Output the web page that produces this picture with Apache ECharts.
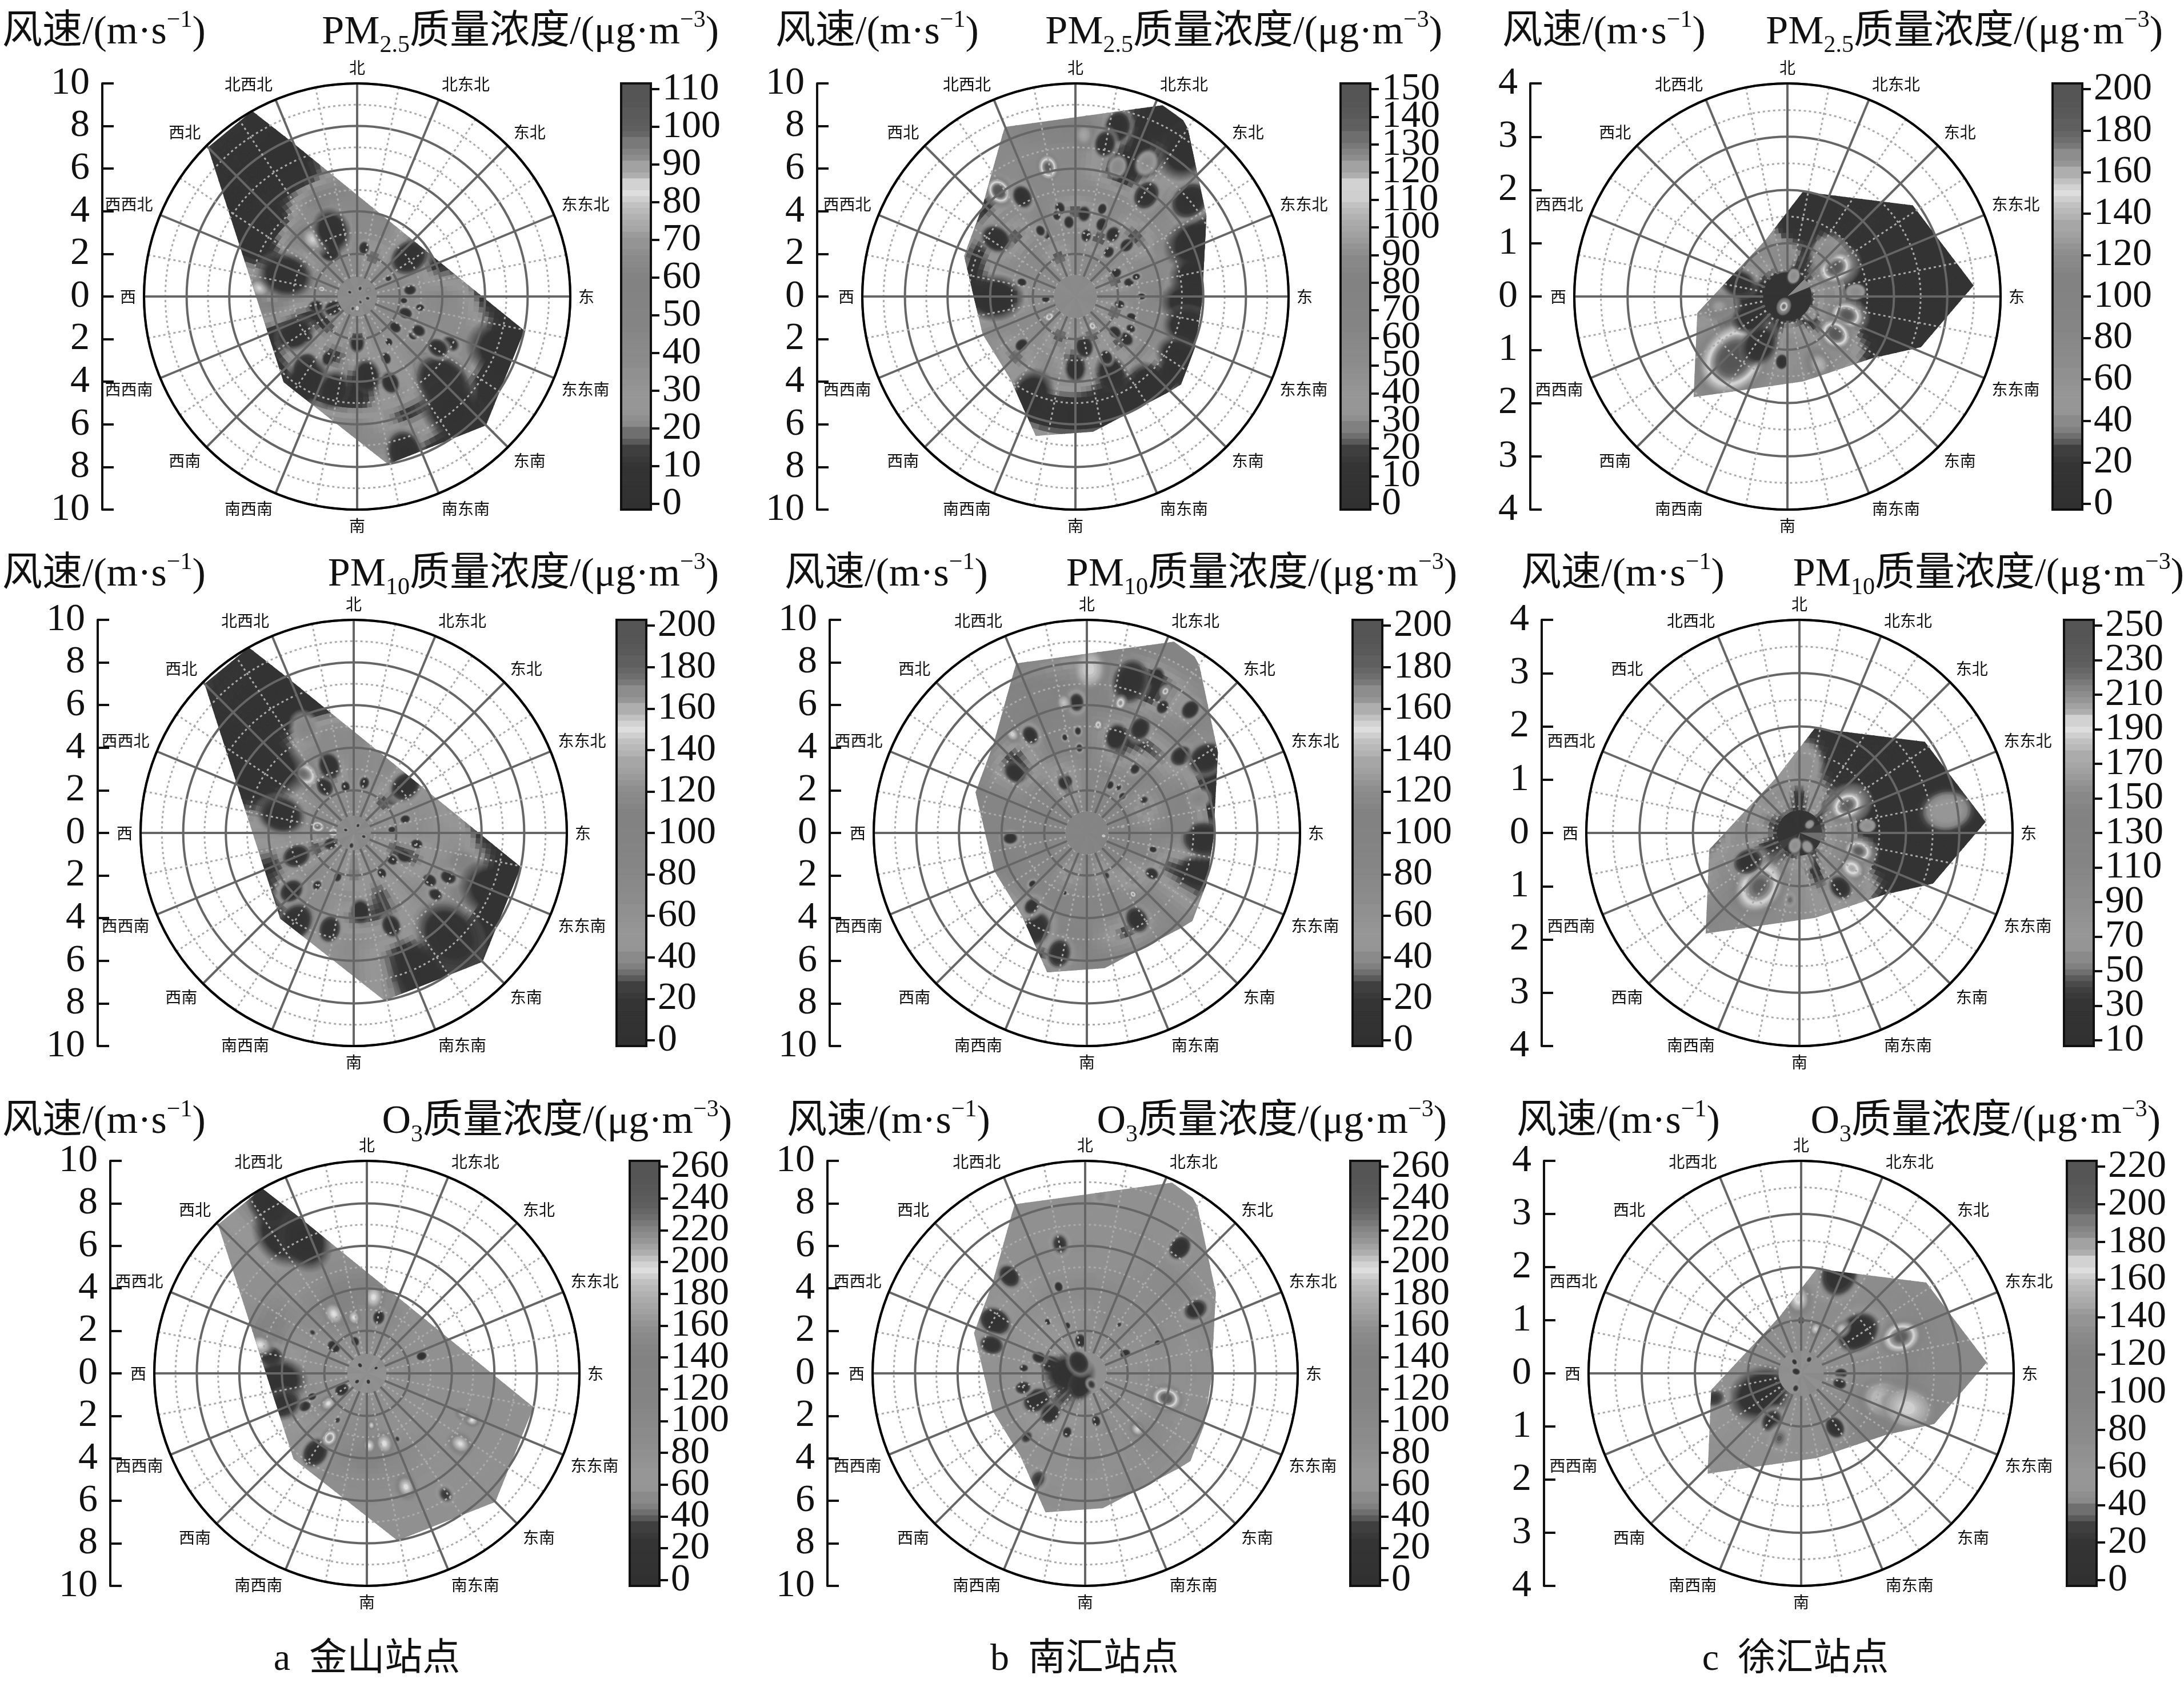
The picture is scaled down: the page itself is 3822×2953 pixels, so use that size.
<!DOCTYPE html>
<html><head><meta charset="utf-8">
<script src="https://cdn.jsdelivr.net/npm/echarts@6/dist/echarts.min.js"></script>
<style>html,body{margin:0;background:#fff}#c{width:3822px;height:2953px}</style></head>
<body><div id="c"></div><script>
const dirNames=['北','北东北','东北','东东北','东','东东南','东南','南东南','南','南西南','西南','西西南','西','西西北','西北','北西北'];
const captions=['a  金山站点','b  南汇站点','c  徐汇站点'];
const pollutantLabels=['{t|PM}{s|2.5}{t|质量浓度/(μg·m}{u|−3}{t|)}','{t|PM}{s|10}{t|质量浓度/(μg·m}{u|−3}{t|)}','{t|O}{s|3}{t|质量浓度/(μg·m}{u|−3}{t|)}'];
const windMax=[10,10,4];
const colorScales=[[[0,110,10],[0,150,10],[0,200,20]],[[0,200,20],[0,200,20],[10,250,20]],[[0,260,20],[0,260,20],[0,220,20]]];
// hull vertices per station: [direction in degrees, wind speed]
const hullJinshan=[[315,9.9],[330.5,10],[336.8,7.95],[101.5,8],[135,8.55],[169.6,8],[220.6,5.3]];
const hullNanhui=[[337.4,8.62],[24.5,9.86],[31.4,9.7],[33.8,9.48],[58.4,7.22],[92.8,5.94],[113.3,6.1],[129.8,6.45],[135.3,6.28],[172.5,6.4],[195.9,6.8],[218.1,4.94],[248,4.7],[290,5.56],[314.5,6.1],[334.8,8.17]];
const hullXuhui=[[8.4,1.99],[54,2.91],[86.6,3.5],[110.8,2.68],[126,1.97],[169.7,1.62],[223,2.58],[259.6,1.72],[292,1.1],[339,1.14]];
// concentration read at rings of wind speed (rows) and 16 directions N..NNW (columns)
const pm25Jinshan=[
[40,38,42,40,38,40,36,40,42,38,40,36,50,40,38,40],
[40,12,40,40,40,45,35,40,8,40,10,8,35,40,40,40],
[40,40,30,35,35,40,35,30,35,8,40,10,40,8,35,6],
[42,42,6,6,45,35,40,25,6,40,35,8,75,6,60,30],
[42,42,6,6,35,40,8,40,8,6,8,8,60,6,6,60],
[45,45,6,6,6,45,30,8,45,40,8,8,50,6,6,8],
[45,45,6,6,6,6,6,40,45,40,8,8,8,6,5,5],
[6,6,6,6,6,6,6,6,40,40,8,8,8,6,5,5],
[6,6,6,6,6,6,6,6,6,6,8,8,8,6,8,5],
[6,6,6,6,6,6,6,6,6,6,8,8,8,6,13,6]];
const pm25Nanhui=[
[55,50,55,50,60,50,55,60,50,55,50,55,50,55,60,50],
[55,50,60,15,55,15,60,15,50,15,55,50,50,50,55,15],
[60,15,50,55,60,60,15,55,10,50,50,55,15,55,60,55],
[15,60,15,55,65,55,60,15,50,55,20,55,10,50,15,65],
[60,60,55,60,15,60,15,8,10,15,55,55,15,8,55,60],
[55,8,65,10,8,10,8,10,8,10,50,55,55,50,8,60],
[60,8,50,8,8,8,50,50,50,50,50,55,55,55,60,55],
[85,10,50,8,8,8,8,8,8,8,8,8,55,55,55,60],
[60,8,8,8,8,50,50,50,50,50,50,50,50,50,50,60]];
const pm25Xuhui=[
[16,20,20,18,22,18,20,18,22,16,15,16,15,15,16,16],
[70,20,40,70,80,70,20,60,70,20,15,15,15,20,60,70],
[15,20,70,15,20,70,70,70,60,60,15,15,50,70,70,70],
[13,13,15,13,13,13,70,70,70,65,60,60,20,60,20,15],
[13,13,13,13,13,13,14,70,70,70,90,70,20,60,20,15],
[13,13,13,13,13,13,13,70,70,70,70,60,20,20,20,15],
[13,13,13,13,13,13,13,70,70,70,70,60,20,20,20,15],
[13,13,13,13,13,13,13,13,70,70,70,60,20,20,20,15],
[13,13,13,13,13,13,13,13,70,70,70,60,20,20,20,15]];
const pm10Jinshan=[
[70,68,72,65,70,68,65,68,40,68,65,50,100,70,68,70],
[70,60,20,60,60,25,65,60,30,60,70,20,60,70,70,60],
[75,70,60,65,70,25,65,25,70,65,75,60,60,40,75,15],
[75,65,50,60,60,60,70,25,25,70,70,20,65,15,65,75],
[70,15,15,15,60,75,60,60,70,60,20,15,60,12,15,75],
[15,15,15,15,15,75,70,15,70,50,15,15,50,12,12,15],
[15,15,15,15,15,15,15,15,70,70,15,15,20,15,12,12],
[15,15,15,15,15,15,15,18,70,70,15,15,20,15,14,14],
[15,15,15,15,15,15,15,15,20,20,15,15,20,15,18,14],
[15,15,15,15,15,15,15,15,20,20,15,15,20,15,24,16]];
const pm10Nanhui=[
[85,90,85,80,85,90,85,85,90,85,85,80,85,85,90,85],
[85,80,85,85,90,85,85,30,85,30,85,85,85,85,85,30],
[85,85,90,30,85,90,30,85,85,85,85,85,85,85,90,30],
[90,30,85,85,90,30,85,85,85,85,85,90,85,85,30,90],
[85,15,30,90,85,15,85,15,90,90,30,85,85,85,15,90],
[95,85,85,12,12,12,85,90,90,12,85,85,90,95,85,110],
[120,10,90,12,85,85,85,85,85,85,85,85,85,90,90,95],
[130,10,85,85,85,85,85,85,85,85,85,85,85,90,100,120],
[110,90,85,85,85,85,85,85,85,85,85,85,85,90,100,110]];
const pm10Xuhui=[
[35,45,40,35,45,40,38,45,50,36,50,34,32,34,45,45],
[30,90,40,100,110,100,100,25,90,90,30,30,90,60,90,90],
[80,40,30,30,28,100,90,60,90,90,90,90,90,90,70,70],
[70,30,28,28,28,28,100,70,90,100,120,90,30,70,60,60],
[28,28,28,28,28,28,28,90,90,100,110,60,30,60,60,60],
[28,28,28,28,28,28,28,90,90,100,110,90,30,60,60,60],
[28,28,28,28,28,28,28,28,90,90,100,90,30,60,60,60],
[28,28,28,28,28,28,28,28,90,90,100,90,30,60,60,60],
[28,28,28,28,28,28,28,28,90,90,100,90,30,60,60,60]];
const o3Jinshan=[
[80,78,80,85,80,78,80,80,85,80,78,80,80,80,78,80],
[90,85,80,80,85,80,80,80,90,80,85,80,80,80,80,90],
[90,100,80,80,80,80,80,80,100,90,80,100,80,80,90,130],
[140,80,80,80,80,80,80,100,130,100,80,40,25,80,90,130],
[90,80,80,80,80,80,80,90,90,90,80,75,60,165,80,90],
[85,80,80,80,80,80,80,80,85,80,80,80,80,90,80,85],
[80,80,80,80,80,80,80,80,80,80,80,80,80,80,80,30],
[80,80,80,80,80,80,80,80,80,80,80,80,80,80,75,12],
[80,80,80,80,80,80,80,80,80,80,80,80,80,80,75,15],
[80,80,80,80,80,80,80,80,80,80,80,80,80,80,75,20]];
const o3Nanhui=[
[80,85,80,80,85,80,80,78,60,40,30,30,30,40,60,75],
[90,80,85,80,80,80,85,80,80,60,40,60,60,75,60,75],
[80,100,90,80,90,85,80,90,80,80,60,75,80,80,75,80],
[100,90,85,90,80,90,100,80,90,80,80,80,80,80,80,90],
[80,85,95,80,85,80,90,85,80,80,80,80,80,60,75,80],
[85,80,100,90,80,85,80,90,80,90,80,80,80,80,80,85],
[80,85,80,80,80,80,80,80,85,80,80,80,80,80,80,80],
[80,80,80,80,80,80,80,80,80,80,80,80,80,80,80,80],
[80,80,80,80,80,80,80,80,80,80,80,80,80,80,80,80]];
const o3Xuhui=[
[72,70,68,72,78,70,72,70,72,70,62,70,72,70,78,72],
[78,70,70,72,72,72,78,72,70,70,30,25,70,72,72,70],
[72,78,70,78,72,95,78,70,70,70,70,68,70,70,78,78],
[72,72,78,72,78,115,95,72,70,70,70,65,70,70,72,72],
[40,72,78,85,95,130,115,78,70,70,70,60,70,72,72,70],
[30,60,78,95,85,95,95,78,70,70,70,65,70,72,72,70],
[70,72,78,85,85,95,78,78,70,70,70,70,70,72,72,70],
[70,72,78,85,85,78,78,78,70,70,70,70,70,72,72,70],
[70,72,78,85,85,78,78,78,70,70,70,70,70,72,72,70]];
// concentration of the inner disc by direction N..NNW
const corePm25Jinshan=[42,40,38,42,40,38,42,36,40,42,40,38,42,40,42,38];
const corePm25Nanhui=[55,58,52,55,58,55,52,58,55,52,58,55,55,52,58,55];
const corePm25Xuhui=[15,15,40,15,15,15,15,15,20,15,15,15,15,15,15,15];
const corePm10Jinshan=[80,74,84,72,82,76,80,72,60,75,82,72,84,75,80,72];
const corePm10Nanhui=[90,85,92,85,90,100,85,92,85,90,85,90,85,92,85,90];
const corePm10Xuhui=[28,32,30,40,50,30,38,30,50,30,42,30,30,32,28,34];
const coreO3Jinshan=[85,78,88,82,78,85,80,85,78,88,82,78,85,78,82,85];
const coreO3Nanhui=[80,80,80,80,80,80,80,80,80,80,80,80,80,80,80,80];
const coreO3Xuhui=[70,76,68,70,78,70,82,72,78,70,70,68,72,68,70,78];
const coreRadii=[[.9,1,.45],[.8,1,.42],[.9,1,.42]];
// local features: [direction, wind speed, peak concentration, extent in wind speed]
const blobsPm25Jinshan=[[244,1.25,5,.4],[257,2,6,.25],[329,2.6,4,.55],[8,2.3,6,.3],[173,3.75,4,.55],[180,2.2,6,.3],[117,4.9,6,.42],[180,.55,88,.14],[282,1.7,92,.16],[322,3.4,82,.6],[275,4.6,82,.42],[100,3,6,.22],[110,2.4,6,.22],[125,3.2,6,.24],[80,2.5,6,.2],[145,2.6,6,.2],[155,3.2,5,.26],[205,3.2,6,.26],[230,3,6,.22],[135,4.8,55,.55],[95,2.2,6,.18],[60,1.7,8,.18],[205,4.7,6,.35],[286.6,3.5,4,.95],[339,3.3,4,.72],[53,3.07,4,.85],[239,3.4,4,.68],[217,4.07,4,.62],[211,4.7,4,.85],[194,4.5,4,.62],[159,4.34,4,.45],[135,5.7,4,1.15],[140,7,4,1.15],[163,7.66,4,.85],[110,7.4,4,1.2],[122.5,4.5,5,.48],[109,2.4,5,.36],[119,3.3,5,.34],[129,2.3,5,.3],[83,2.5,5,.3],[20,.4,12,.12],[100,.5,12,.12],[200,.6,14,.12],[300,.4,12,.11],[150,.3,14,.11],[60,.6,70,.12]];
const blobsPm25Nanhui=[[324,6.1,150,.62],[348,6.2,140,.5],[3,7.6,100,.55],[14,8.2,5,.65],[28,7.1,55,.5],[18,6.4,60,.42],[60,4.75,60,.38],[84,4.7,65,.38],[73,5.5,55,.28],[306,4.6,6,.6],[332,5.3,6,.6],[269,3.8,5,.9],[180,5.5,6,.5],[180,3.4,6,.45],[228,3.4,8,.3],[170,2.4,6,.42],[232,1.55,125,.24],[150,1.6,125,.22],[350,4.2,8,.28],[335,3.2,10,.25],[20,3.6,8,.3],[45,3.4,8,.3],[75,2.6,10,.25],[110,2.8,8,.25],[130,3.1,8,.28],[265,1.4,8,.2],[285,2.6,8,.22],[11,7.3,6,.55],[35,5.8,6,.65],[66,6.2,5,1],[80,5.8,5,.85],[93,5.3,5,.85],[105,5.5,5,.85],[120,5.6,5,.75],[50,7,5,.85],[37,8.6,5,1],[204,5.1,5,.85],[155,4,6,.62],[140,5.4,5,.75],[127,5.8,6,.52],[153,3.2,6,.32],[132,2.5,8,.28],[120,3,8,.22],[332,3.5,8,.28],[355,3.5,8,.28],[347,3.9,8,.22],[10,2.9,8,.28],[31,3.4,8,.32],[37,2.6,8,.28],[60,2.2,8,.22],[72,3,8,.22],[90,3.1,8,.22],[100,2.1,8,.22],[6,3.9,8,.28],[17,4.3,8,.28]];
const blobsPm25Xuhui=[[221,1.54,200,.68],[59,1.05,192,.33],[107.5,1.17,192,.28],[128,1.14,192,.28],[185,1.23,8,.14],[200,.2,180,.12],[86,1.28,70,.16],[40,1.1,70,.22],[17,.4,70,.12],[67,.5,75,.12],[262,1.3,130,.28],[351,.75,75,.22],[128,.5,70,.14],[300,.8,60,.16],[155,1.4,140,.26],[210,1.05,12,.3],[285,.95,12,.25],[240,.8,12,.24]];
const blobsPm10Jinshan=[[320.6,3.55,175,.62],[280,1.72,180,.3],[272,.95,170,.22],[245,1.2,15,.3],[328,2.56,12,.42],[100,3,12,.25],[115,2.6,12,.25],[125,2.2,12,.24],[75,2.5,12,.24],[175,3.7,10,.42],[145,2.3,10,.24],[158,4.7,10,.48],[127,4.8,12,.36],[105,5.3,110,.55],[120,6,115,.55],[335,5.4,85,.6],[3,4.6,85,.55],[25,3.6,75,.45],[200,2.2,12,.22],[215,3,12,.26],[85,1.8,12,.18],[50,2.4,12,.22],[309.6,4.95,10,1.1],[284,3.5,10,.85],[248,2.9,10,.62],[227,4,10,.62],[213,5,10,.75],[194,4.65,10,.62],[137,6.6,10,1.25],[112,7.2,10,1.15],[155,7.3,10,1.05],[48,3.27,10,.75],[340,3.35,10,.5],[350,2.2,10,.26],[12,2.4,10,.3],[115,4.9,10,.42],[122,4.2,10,.36],[30,.4,20,.11],[110,.5,20,.11],[190,.6,20,.12],[290,.4,20,.11]];
const blobsPm10Nanhui=[[16,7.4,10,.85],[24,8,15,.32],[40,7.55,10,.52],[50.6,5.7,10,.52],[58,6.6,10,.72],[93,5.5,10,.85],[110,5.45,12,.62],[150,4.7,12,.58],[208,5.1,10,.9],[193,5.8,10,.62],[217,4.3,15,.5],[266,3.6,10,.42],[330,5.3,12,.52],[355.5,6.15,12,.58],[310,4.4,12,.42],[17,4.7,10,.48],[27,5.5,12,.52],[31,6.9,12,.28],[104,3.2,12,.22],[122,3.6,12,.32],[29,7.6,168,.24],[14.5,6.3,168,.28],[6,5.1,165,.22],[323,5.8,150,.32],[350,6.2,145,.32],[1,7.7,150,.65],[73,5.5,85,.42],[86,4.5,90,.32],[143,3.6,168,.16],[340,2.6,20,.2],[35,2.6,20,.2],[60,3.1,20,.2],[155,2.2,22,.14],[200,3,20,.14],[80,1.7,140,.12],[335,2.57,15,.25],[26,2.5,15,.26],[37,3.76,15,.3],[44,2.4,15,.24],[227,3.5,15,.24],[355,4,15,.24],[347,4.6,15,.2],[355,4.8,15,.24],[100,.8,160,.1]];
const blobsPm10Xuhui=[[60,1.03,232,.33],[107,1.16,232,.25],[124,1.19,205,.22],[217,1.25,232,.48],[188,1.27,50,.12],[143,1.28,25,.24],[241,1.1,25,.27],[84,1.28,90,.14],[81.5,2.8,75,.42],[4,1.25,60,.32],[30,.55,85,.14],[200,.25,90,.12],[150,.3,75,.1],[50,.25,70,.08],[165,.55,100,.12],[120,.45,90,.1]];
const blobsO3Jinshan=[[213,4.45,15,.78],[309,2,10,.32],[237,1.4,10,.34],[12,2.7,15,.38],[72.5,2.7,10,.24],[340,1.6,15,.24],[242,3.3,15,.3],[247,2.8,15,.24],[147,6.8,30,.42],[307,3.2,30,.18],[155,3.4,30,.16],[212,2.6,30,.18],[210,3.5,222,.38],[5,3.6,198,.5],[331,3.2,198,.45],[347,2.7,198,.3],[166,3.4,198,.45],[178,3.4,198,.3],[161,5.65,198,.5],[127,5.5,198,.5],[114,5.4,198,.32],[232,2.3,198,.36],[175,2.45,195,.18],[113,4.9,185,.3],[329,7.7,8,1.1],[335,6.9,8,1],[330,9.3,12,.8],[280,4.6,20,.65],[265,4.2,12,.9],[250,4.2,22,.65],[285,5.2,198,.45],[170,.4,15,.11],[320,.5,15,.11],[60,.5,20,.09],[230,.6,20,.11]];
const blobsO3Nanhui=[[37,7.4,10,.58],[322,5.8,15,.58],[300,4.9,10,.68],[287,4.6,15,.52],[60,6,15,.62],[107,4,245,.62],[241,2.6,10,.58],[257,3,15,.36],[221,2.5,12,.42],[197,2.9,15,.26],[167,2.3,15,.26],[222.5,4.07,25,.32],[343,4.26,15,.26],[349,6.2,25,.52],[204,5.45,30,.52],[285,1.7,12,.42],[289,2.3,15,.32],[275,2.9,20,.22],[352,1.55,12,.32],[324,3,20,.16],[340,2.4,20,.16],[64,2.1,15,.26],[35,2.8,30,.16],[67,3.7,20,.16],[5,8.4,50,.42],[137,3.6,195,.34],[270,.75,6,.8],[200,.6,8,.5],[330,.6,8,.5],[150,.6,30,.25]];
const blobsO3Xuhui=[[54,1.32,5,.42],[70,2,205,.32],[21,2,8,.42],[243,.85,10,.42],[212,1.05,15,.22],[148,1.2,10,.22],[198.5,1.29,35,.22],[107.5,1.67,170,.38],[42,1.13,160,.14],[18,.88,165,.12],[0,1,20,.09],[358,1.4,170,.26],[108,2.1,165,.42],[90,.75,15,.13],[105,.75,15,.14],[254,1.7,25,.22],[330,.25,15,.06],[290,.1,15,.08],[30,.3,20,.06],[200,.3,20,.07]];

const panelData=[
 [[pm25Jinshan,blobsPm25Jinshan,corePm25Jinshan,hullJinshan],[pm25Nanhui,blobsPm25Nanhui,corePm25Nanhui,hullNanhui],[pm25Xuhui,blobsPm25Xuhui,corePm25Xuhui,hullXuhui]],
 [[pm10Jinshan,blobsPm10Jinshan,corePm10Jinshan,hullJinshan],[pm10Nanhui,blobsPm10Nanhui,corePm10Nanhui,hullNanhui],[pm10Xuhui,blobsPm10Xuhui,corePm10Xuhui,hullXuhui]],
 [[o3Jinshan,blobsO3Jinshan,coreO3Jinshan,hullJinshan],[o3Nanhui,blobsO3Nanhui,coreO3Nanhui,hullNanhui],[o3Xuhui,blobsO3Xuhui,coreO3Xuhui,hullXuhui]]];

// page layout (pixels)
const rowTop=[146,1085,2032], rowH=[746,746,744];
const centerX=[[625,1882,3128],[619,1902,3149],[642,1899,3152]];
const axisX=[[179,1430,2678],[171,1452,2698],[193,1448,2702]];
const barX=[[1087,2346,3592],[1079,2367,3612],[1102,2363,3617]];
const barW=52;
const speedLeft=[[4,1357,2629],[4,1373,2662],[4,1377,2654]];
const concRight=[[1258,2524,3785],[1258,2550,3822],[1281,2532,3781]];
const titleY=[60,1009,1967];
const captionX=[642,1898,3142], captionY=2906;
const FONT="'Liberation Serif','Noto Sans CJK SC',serif";

// grey colour scale: position along bar -> grey level
const greyStops=[[0,48],[.11,52],[.138,62],[.16,80],[.18,110],[.2,135],[.24,150],[.275,150],[.345,140],[.45,132],[.55,130],[.607,140],[.65,160],[.69,175],[.725,195],[.75,222],[.77,205],[.79,175],[.82,150],[.85,130],[.875,110],[.9,95],[.965,85],[1,85]];
function grey(f){
  f=Math.max(0,Math.min(1,f));
  for(let i=1;i<greyStops.length;i++){ if(f<=greyStops[i][0]){const a=greyStops[i-1],b=greyStops[i];return Math.round(a[1]+(b[1]-a[1])*(f-a[0])/(b[0]-a[0]));}}
  return 85;
}
const BANDS=72;
function col(v,lo,hi,alpha){const f=Math.floor(((v-lo)/(hi-lo))*BANDS+.5)/BANDS,g=grey(f);return alpha===undefined?`rgb(${g},${g},${g})`:`rgba(${g},${g},${g},${alpha})`;}

function ringSpeed(maxR,i){return maxR===4?.4*(i+1):i+1;}
function fieldAt(grid,maxR,s,d){
  const step=maxR===4?.4:1; let u=s/step-1; const n=grid.length;
  u=Math.max(0,Math.min(n-1,u)); const i0=Math.floor(u),i1=Math.min(n-1,i0+1),ft=u-i0;
  const a=((d%360)+360)%360/22.5,j0=Math.floor(a)%16,j1=(j0+1)%16,at=a-Math.floor(a);
  const v0=grid[i0][j0]*(1-at)+grid[i0][j1]*at, v1=grid[i1][j0]*(1-at)+grid[i1][j1]*at;
  return v0*(1-ft)+v1*ft;
}
const option={animation:false,backgroundColor:'#fff',title:[],polar:[],angleAxis:[],radiusAxis:[],grid:[],xAxis:[],yAxis:[],series:[]};
const axisText={fontFamily:FONT,fontSize:68,color:'#111'};
let gi=0,pi=0;
for(let row=0;row<3;row++)for(let c=0;c<3;c++){
  const [grid,blobs,core,hull]=panelData[row][c];
  const maxR=windMax[c],top=rowTop[row],H=rowH[row],R=H/2,cx=centerX[row][c],cy=top+R,px=R/maxR;
  const [cmin,cmax,cint]=colorScales[row][c];
  const cext=(cmax-cmin)*.014,lo=cmin-cext,hi=cmax+cext;
  const polarIndex=pi++;
  option.polar.push({center:[cx,cy],radius:[0,R]});
  option.angleAxis.push({polarIndex,type:'value',min:0,max:360,interval:22.5,startAngle:90,z:3,
    axisLine:{show:true,lineStyle:{color:'#000',width:4}},axisTick:{show:false},
    minorTick:{show:false,splitNumber:2},
    splitLine:{show:true,lineStyle:{color:'#666',width:4}},
    minorSplitLine:{show:true,lineStyle:{color:'#aaa',width:3,type:[4,5]}},
    axisLabel:{show:true,margin:14,fontSize:28,fontFamily:"'Noto Sans CJK SC'",color:'#111',formatter:v=>dirNames[Math.round(v/22.5)%16]}});
  option.radiusAxis.push({polarIndex,type:'value',min:0,max:maxR,interval:maxR===4?1:2,z:3,
    axisLine:{show:false},axisTick:{show:false},axisLabel:{show:false},minorTick:{show:false,splitNumber:2},
    splitLine:{show:true,lineStyle:{color:'#666',width:4}},
    minorSplitLine:{show:true,lineStyle:{color:'#aaa',width:3,type:[4,5]}}});
  const hullPts=api=>hull.map(h=>api.coord([h[1],h[0]]));
  // field layer
  const n=grid.length, fieldData=[];
  for(let i=0;i<=n;i++)for(let j=0;j<16;j++){const s=i<n?ringSpeed(maxR,i):maxR;fieldData.push([s,j*22.5,grid[Math.min(i,n-1)][j]]);}
  option.series.push({type:'custom',coordinateSystem:'polar',polarIndex,z:1,silent:true,data:fieldData,
    renderItem(params,api){
      const i=Math.floor(params.dataIndex/16),j=params.dataIndex%16;
      const r0=i===0?0:ringSpeed(maxR,i-1), r1=i<n?ringSpeed(maxR,i):Math.max(maxR,ringSpeed(maxR,n-1)+.01);
      if(r1<=r0)return null;
      const d0=j*22.5,rm=(r0+r1)/2;
      const nA=Math.max(2,Math.ceil(rm*px*Math.PI/8/10)),nR=Math.max(2,Math.ceil((r1-r0)*px/10));
      const children=[];
      for(let a=0;a<nA;a++)for(let b=0;b<nR;b++){
        const da=d0+22.5*a/nA,db=d0+22.5*(a+1)/nA,ra=r0+(r1-r0)*b/nR,rb=r0+(r1-r0)*(b+1)/nR;
        const v=fieldAt(grid,maxR,(ra+rb)/2,(da+db)/2),f=col(v,lo,hi);
        children.push({type:'polygon',shape:{points:[api.coord([ra,da]),api.coord([ra,db]),api.coord([rb,db]),api.coord([rb,da])]},style:{fill:f,stroke:f,lineWidth:1}});
      }
      return {type:'group',silent:true,children,clipPath:{type:'polygon',shape:{points:hullPts(api)}}};
    }});
  // local peaks and holes, outer ones under the grid lines, inner ones over the inner disc
  const coreR=coreRadii[row][c];
  const blobRender=(params,api)=>{
      const s=api.value(0),d=api.value(1),peak=api.value(2),ext=api.value(3);
      const p=api.coord([s,d]),base=fieldAt(grid,maxR,s,d),stops=[];
      for(let k=0;k<=30;k++){const t=k/30,v=base+(peak-base)*Math.pow(1-t*t,1.5);stops.push({offset:t,color:col(v,lo,hi,t<.6?1:(1-t)/.4)});}
      const phi=Math.atan2(p[1]-cy,p[0]-cx);
      return {type:'group',silent:true,clipPath:{type:'polygon',shape:{points:hullPts(api)}},
        children:[{type:'circle',x:p[0],y:p[1],rotation:-phi,scaleX:1.2,scaleY:.95,shape:{cx:0,cy:0,r:ext*px*1.35},style:{fill:{type:'radial',x:.5,y:.5,r:.5,colorStops:stops}}}]};
  };
  const asItem=b=>[b[1],b[0],b[2],b[3]];
  option.series.push({type:'custom',coordinateSystem:'polar',polarIndex,z:2,silent:true,data:blobs.filter(b=>b[1]>=coreR).map(asItem),renderItem:blobRender});
  // inner disc, drawn over the spokes
  option.series.push({type:'custom',coordinateSystem:'polar',polarIndex,z:4,silent:true,data:core.map((v,j)=>[coreR,j*22.5,v]),
    renderItem(params,api){
      const d=api.value(1),f=col(api.value(2),lo,hi),pts=[api.coord([0,0])];
      for(let k=0;k<=4;k++)pts.push(api.coord([coreR,d+22.5*k/4]));
      return {type:'polygon',silent:true,shape:{points:pts},style:{fill:f,stroke:f,lineWidth:1}};
    }});
  option.series.push({type:'custom',coordinateSystem:'polar',polarIndex,z:5,silent:true,data:blobs.filter(b=>b[1]<coreR).map(asItem),renderItem:blobRender});
  // wind speed axis
  let g=gi++;
  option.grid.push({left:axisX[row][c],top,width:1,height:H});
  option.xAxis.push({gridIndex:g,type:'value',show:false,min:0,max:1});
  option.yAxis.push({gridIndex:g,type:'value',min:-maxR,max:maxR,interval:maxR===4?1:2,position:'left',
    axisLine:{show:true,onZero:false,lineStyle:{color:'#111',width:4}},axisTick:{show:true,inside:true,length:20,lineStyle:{color:'#111',width:4}},
    splitLine:{show:false},axisLabel:{...axisText,margin:22,formatter:v=>String(Math.abs(v))}});
  // colour bar
  g=gi++;
  const inset=(H*cext)/(cmax-cmin+2*cext);
  option.grid.push({left:barX[row][c],top:top+inset,width:barW,height:H-2*inset});
  option.xAxis.push({gridIndex:g,type:'value',show:false,min:0,max:1});
  option.yAxis.push({gridIndex:g,type:'value',min:cmin,max:cmax,interval:cint,position:'right',
    axisLine:{show:false,onZero:false},axisTick:{show:true,length:15,lineStyle:{color:'#111',width:4}},
    splitLine:{show:false},axisLabel:{show:false}});
  const barLevels=[];for(let k=0;k<BANDS;k++)barLevels.push(lo+(hi-lo)*(k+.5)/BANDS);
  option.series.push({type:'custom',coordinateSystem:'cartesian2d',xAxisIndex:g,yAxisIndex:g,z:2,silent:true,clip:false,data:barLevels.map(v=>[.5,v]),
    renderItem(params,api){
      const v=api.value(1),hs=(hi-lo)/BANDS/2,a=api.coord([0,v+hs]),b=api.coord([1,v-hs]),f=col(v,lo,hi);
      const kids=[{type:'rect',shape:{x:a[0],y:a[1],width:b[0]-a[0],height:b[1]-a[1]},style:{fill:f,stroke:f,lineWidth:1}}];
      if(params.dataIndex===BANDS-1){const t=api.coord([0,hi]),u=api.coord([1,lo]);
        kids.push({type:'rect',shape:{x:t[0],y:t[1],width:u[0]-t[0],height:u[1]-t[1]},style:{fill:'none',stroke:'#111',lineWidth:4},z2:10});}
      return {type:'group',silent:true,children:kids};
    }});
  // colour bar tick labels: every tick is labelled even where the digits touch, as in the figure
  const barTicks=[];for(let v=cmin;v<=cmax;v+=cint)barTicks.push(v);
  option.series.push({type:'custom',coordinateSystem:'cartesian2d',xAxisIndex:g,yAxisIndex:g,z:3,silent:true,clip:false,data:barTicks.map(v=>[1,v]),
    renderItem(params,api){
      const p=api.coord([1,api.value(1)]);
      return {type:'text',x:p[0]+20,y:p[1],silent:true,style:{text:String(api.value(1)),fontFamily:FONT,fontSize:68,fill:'#111',align:'left',verticalAlign:'middle'}};
    }});
  // titles
  const w={fontFamily:FONT,fontWeight:'normal',color:'#111'};
  const rich={t:{...w,fontSize:70,lineHeight:86},s:{...w,fontSize:42,lineHeight:56,verticalAlign:'bottom'},u:{...w,fontSize:42,lineHeight:60,verticalAlign:'top'}};
  option.title.push({text:'{t|风速/(m·s}{u|−1}{t|)}',left:speedLeft[row][c],top:titleY[row]-45,padding:0,textStyle:{rich,fontFamily:FONT,fontWeight:'normal'}});
  option.title.push({text:pollutantLabels[row],right:3822-concRight[row][c],top:titleY[row]-45,padding:0,textStyle:{rich,fontFamily:FONT,fontWeight:'normal'}});
}
captions.forEach((t,i)=>option.title.push({text:t,left:captionX[i],top:captionY-40,textAlign:'center',padding:0,textStyle:{fontFamily:FONT,fontSize:66,fontWeight:'normal',color:'#111',lineHeight:80}}));
const chart=echarts.init(document.getElementById('c'),null,{renderer:'canvas',width:3822,height:2953});
chart.setOption(option);
</script></body></html>
